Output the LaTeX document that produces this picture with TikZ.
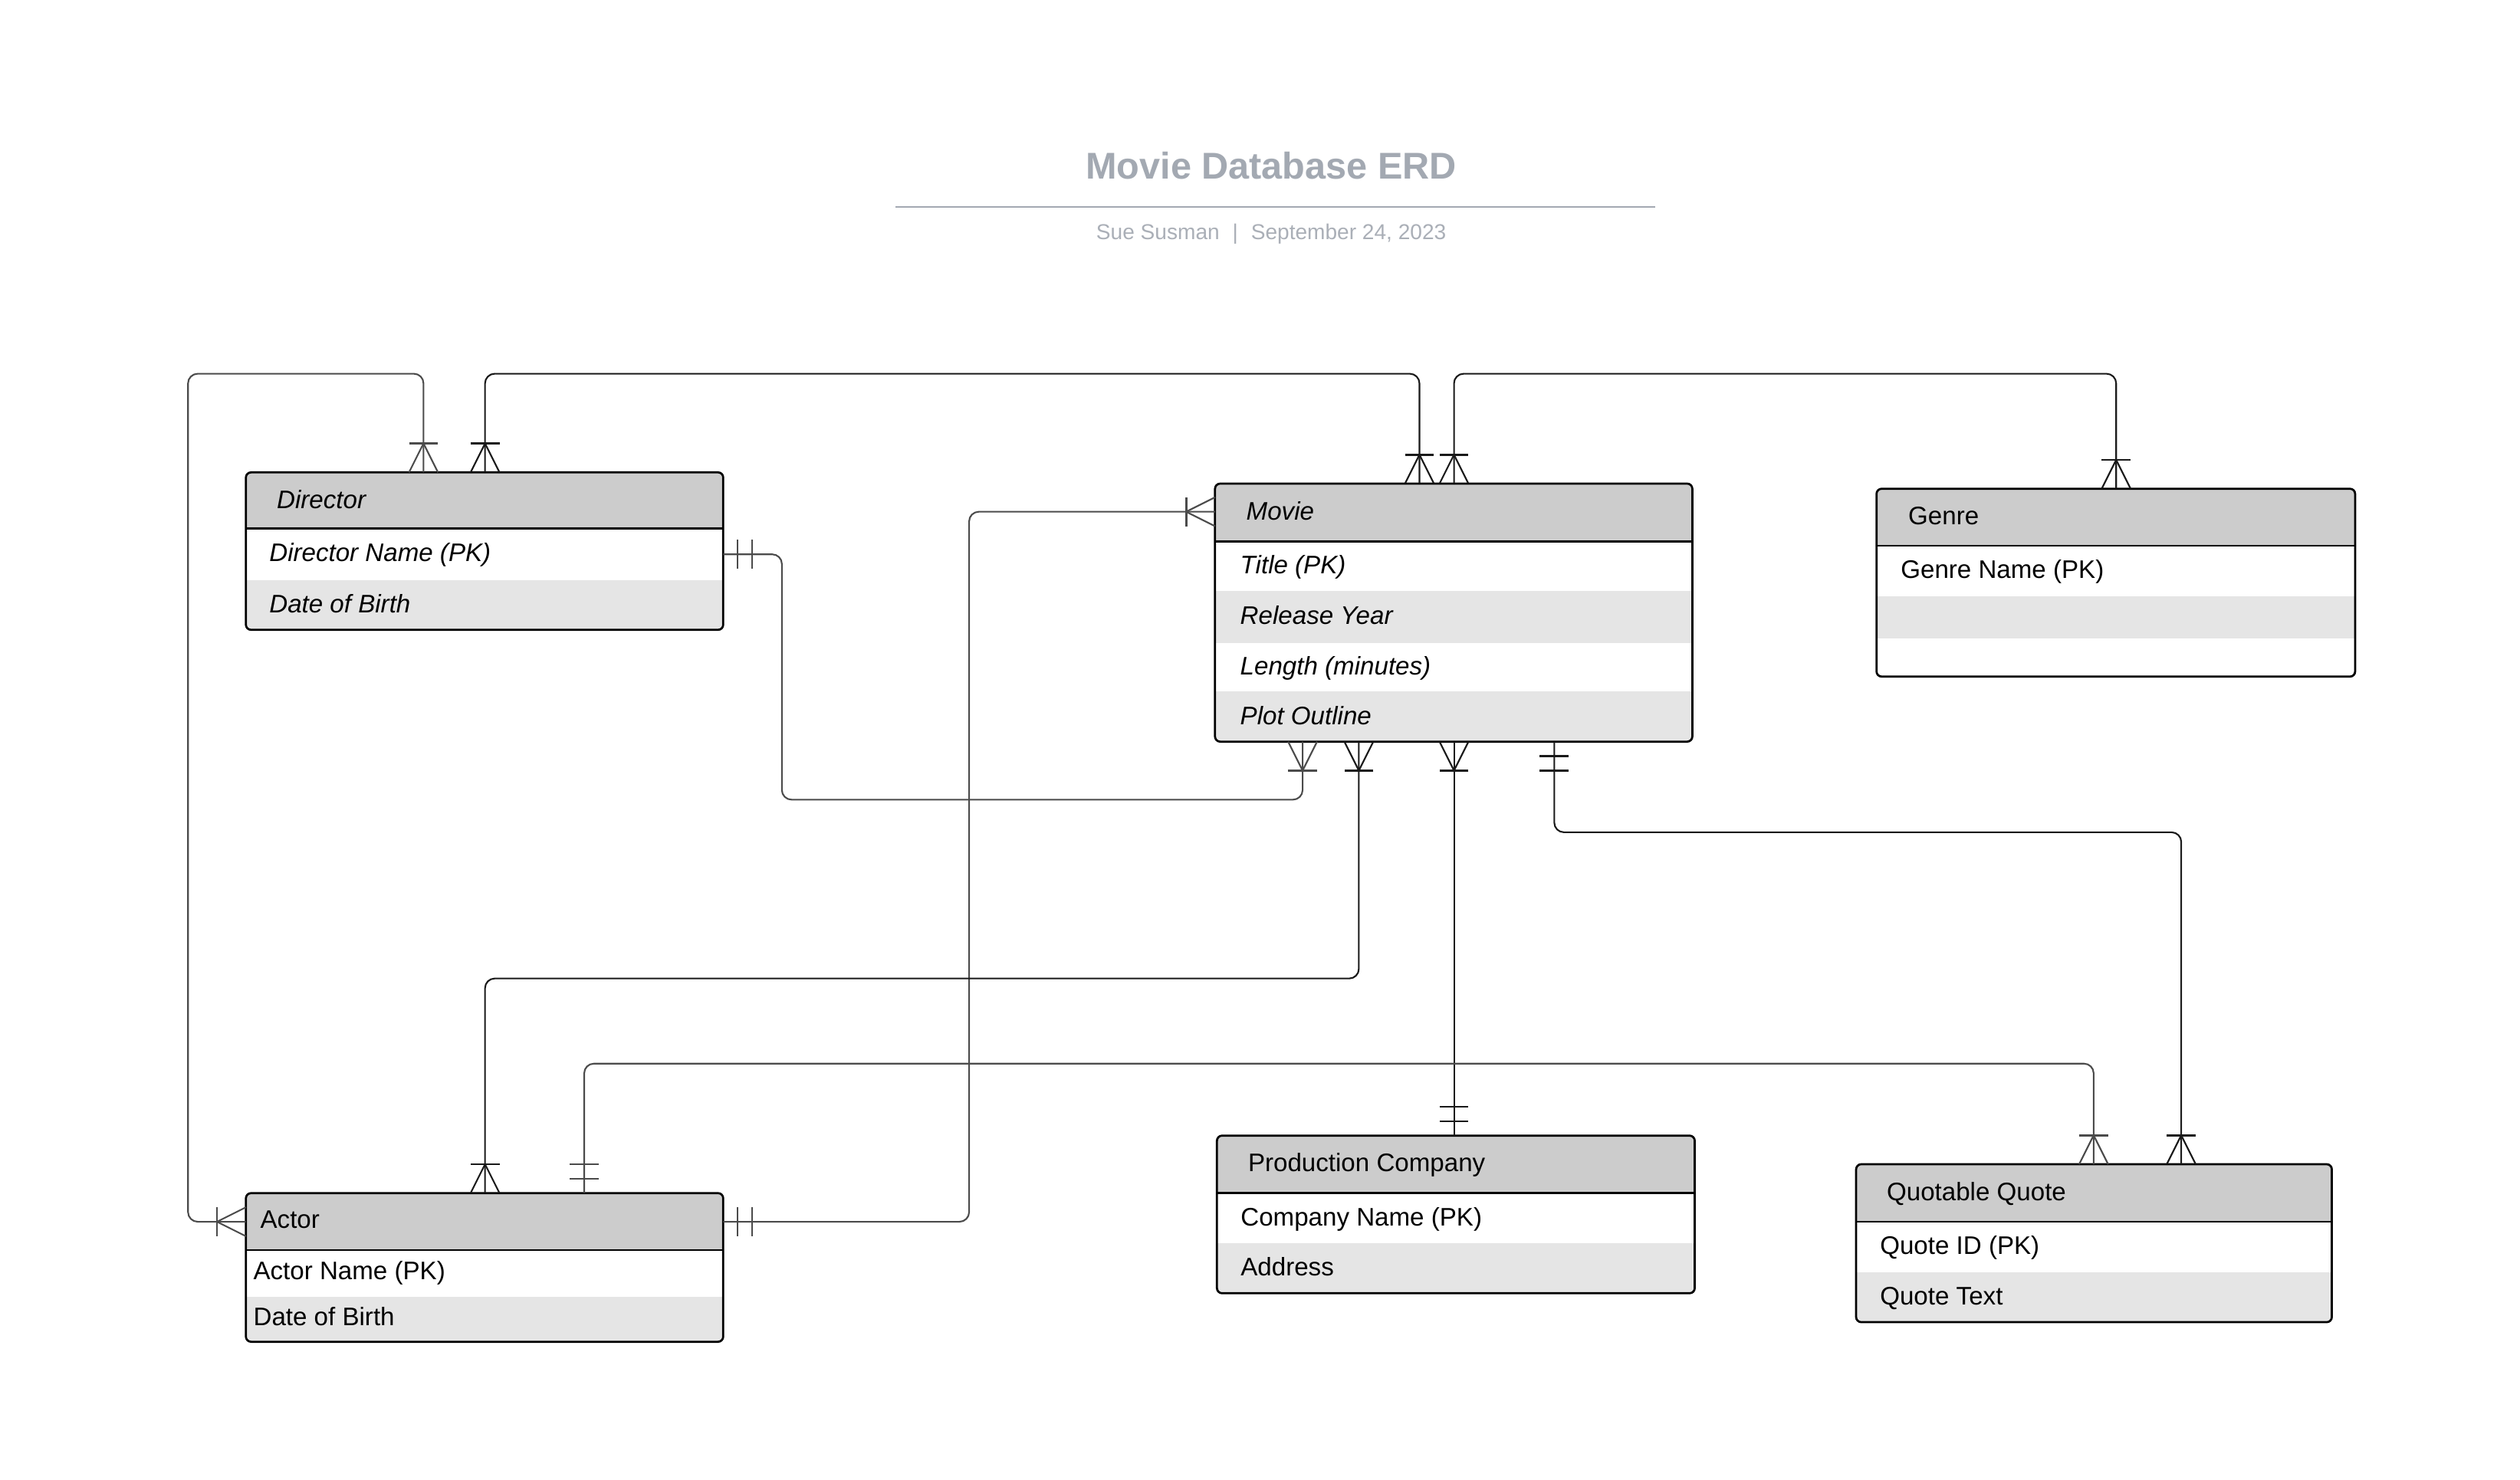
\documentclass[tikz,border=0pt]{standalone}
\usepackage{fontspec}
\setmainfont{Liberation Sans}
\usetikzlibrary{calc}
\definecolor{titlegray}{RGB}{163,169,178}
\definecolor{subgray}{RGB}{170,175,183}
\definecolor{hdrfill}{RGB}{204,204,204}
\definecolor{altfill}{RGB}{229,229,229}
\definecolor{linegray}{RGB}{75,75,75}
\definecolor{lineblack}{RGB}{25,25,25}
\newcommand\ft{\fontsize{7.9}{9.5}\selectfont}
% crow's foot (one or many): #1 colour, #2 coordinate, #3 outward angle
\newcommand\manyone[3][linegray]{%
  \begin{scope}[shift={(#2)},rotate=#3]
    \draw[#1,line width=0.5pt] (0,9)--(18,0) (0,-9)--(18,0);
    \draw[#1,line width=0.7pt] (18,-9)--(18,9);
  \end{scope}}
% one and only one
\newcommand\onlyone[3][linegray]{%
  \begin{scope}[shift={(#2)},rotate=#3]
    \draw[#1,line width=0.6pt] (9,-9)--(9,9) (18,-9)--(18,9);
  \end{scope}}
\begin{document}
\begin{tikzpicture}[x=0.5pt,y=-0.5pt,
  entbox/.style={draw=black,line width=0.65pt,rounded corners=1.6pt,inner sep=0pt,outer sep=0pt,anchor=north west},
  etext/.style={anchor=west,inner sep=0pt,outer sep=0pt,font=\ft,text height=5.65pt,text depth=0pt},
  itext/.style={etext,font=\ft\itshape},
  conn/.style={line width=0.5pt,rounded corners=3pt}]
\useasboundingbox (0,0) rectangle (1568,921);
\fill[white] (0,0) rectangle (1568,921);

% ---------- title ----------
\node[anchor=base,inner sep=0pt,font=\bfseries\fontsize{11.6}{14}\selectfont,text=titlegray] (title) at (791,111.5) {Movie Database ERD};
\coordinate (tl1) at (557.2,128.8);
\coordinate (tl2) at (1029.7,128.8);
\draw[titlegray,line width=0.65pt] (tl1) -- (tl2);
\node[anchor=base,inner sep=0pt,font=\fontsize{6.7}{8}\selectfont,text=subgray] (subtitle) at (791,149) {Sue Susman\hspace{0.6em}|\hspace{0.6em}September 24, 2023};

% ---------- fills ----------
\begin{scope}
  \clip[rounded corners=1.6pt] (153,294) rectangle (450,392);
  \fill[hdrfill] (153,294) rectangle (450,329);
  \fill[altfill] (153,361) rectangle (450,392);
\end{scope}
\begin{scope}
  \clip[rounded corners=1.6pt] (756,301) rectangle (1053,461.6);
  \fill[hdrfill] (756,301) rectangle (1053,337);
  \fill[altfill] (756,368) rectangle (1053,400);
  \fill[altfill] (756,430.5) rectangle (1053,461.6);
\end{scope}
\begin{scope}
  \clip[rounded corners=1.6pt] (1167.6,304.2) rectangle (1465.4,421.1);
  \fill[hdrfill] (1167.6,304.2) rectangle (1465.4,339.8);
  \fill[altfill] (1167.6,371.3) rectangle (1465.4,397.2);
\end{scope}
\begin{scope}
  \clip[rounded corners=1.6pt] (153,742.6) rectangle (450,835.1);
  \fill[hdrfill] (153,742.6) rectangle (450,778.2);
  \fill[altfill] (153,807) rectangle (450,835.1);
\end{scope}
\begin{scope}
  \clip[rounded corners=1.6pt] (757.2,706.8) rectangle (1054.5,804.9);
  \fill[hdrfill] (757.2,706.8) rectangle (1054.5,742.6);
  \fill[altfill] (757.2,773.9) rectangle (1054.5,804.9);
\end{scope}
\begin{scope}
  \clip[rounded corners=1.6pt] (1154.9,724.6) rectangle (1450.9,822.9);
  \fill[hdrfill] (1154.9,724.6) rectangle (1450.9,760.4);
  \fill[altfill] (1154.9,791.9) rectangle (1450.9,822.9);
\end{scope}

% ---------- entity boxes ----------
\node[entbox,minimum width=148.5pt,minimum height=49pt] (director) at (153,294) {};
\node[entbox,minimum width=148.5pt,minimum height=80.3pt] (movie) at (756,301) {};
\node[entbox,minimum width=148.9pt,minimum height=58.45pt] (genre) at (1167.6,304.2) {};
\node[entbox,minimum width=148.5pt,minimum height=46.25pt] (actor) at (153,742.6) {};
\node[entbox,minimum width=148.65pt,minimum height=49.05pt] (prodco) at (757.2,706.8) {};
\node[entbox,minimum width=148pt,minimum height=49.15pt] (quote) at (1154.9,724.6) {};

\draw[line width=0.65pt] (153,329) -- (450,329);
\draw[line width=0.65pt] (756,337) -- (1053,337);
\draw[line width=0.5pt] (1167.6,339.8) -- (1465.4,339.8);
\draw[line width=0.5pt] (153,778.2) -- (450,778.2);
\draw[line width=0.65pt] (757.2,742.6) -- (1054.5,742.6);
\draw[line width=0.65pt] (1154.9,760.4) -- (1450.9,760.4);

% ---------- texts ----------
\node[itext] (dir-h) at (172.3,311) {Director};
\node[itext] (dir-r1) at (167.6,344) {Director Name (PK)};
\node[itext] (dir-r2) at (167.6,375.5) {Date of Birth};

\node[itext] (mov-h) at (775.5,318) {Movie};
\node[itext] (mov-r1) at (771.7,351.5) {Title (PK)};
\node[itext] (mov-r2) at (771.7,383) {Release Year};
\node[itext] (mov-r3) at (771.7,414.3) {Length (minutes)};
\node[itext] (mov-r4) at (771.7,445.3) {Plot Outline};

\node[etext] (gen-h) at (1187.4,321) {Genre};
\node[etext] (gen-r1) at (1182.7,354.5) {Genre Name (PK)};

\node[etext] (act-h) at (162,758.8) {Actor};
\node[etext] (act-r1) at (157.7,790.6) {Actor Name (PK)};
\node[etext] (act-r2) at (157.7,819.3) {Date of Birth};

\node[etext] (pc-h) at (776.6,723.7) {Production Company};
\node[etext] (pc-r1) at (772,757.2) {Company Name (PK)};
\node[etext] (pc-r2) at (772,788.4) {Address};

\node[etext] (q-h) at (1174,741.5) {Quotable Quote};
\node[etext] (q-r1) at (1169.8,775.2) {Quote ID (PK)};
\node[etext] (q-r2) at (1169.8,806.4) {Quote Text};

% ---------- attachment points ----------
\coordinate (dirT1) at ($(director.north west)+(110.5,0)$);
\coordinate (dirT2) at ($(director.north west)+(148.8,0)$);
\coordinate (dirR)  at ($(director.north east)+(0,51)$);
\coordinate (movT1) at ($(movie.north west)+(127.2,0)$);
\coordinate (movT2) at ($(movie.north west)+(148.7,0)$);
\coordinate (movL)  at ($(movie.north west)+(0,17.5)$);
\coordinate (movB1) at ($(movie.south west)+(54.5,0)$);
\coordinate (movB2) at ($(movie.south west)+(89.5,0)$);
\coordinate (movB3) at ($(movie.south west)+(148.7,0)$);
\coordinate (movB4) at ($(movie.south west)+(211.1,0)$);
\coordinate (genT)  at ($(genre.north west)+(149.1,0)$);
\coordinate (actL)  at ($(actor.north west)+(0,17.8)$);
\coordinate (actR)  at ($(actor.north east)+(0,17.8)$);
\coordinate (actT1) at ($(actor.north west)+(148.8,0)$);
\coordinate (actT2) at ($(actor.north west)+(210.5,0)$);
\coordinate (pcT)   at ($(prodco.north west)+(147.5,0)$);
\coordinate (qT1)   at ($(quote.north west)+(147.8,0)$);
\coordinate (qT2)   at ($(quote.north west)+(202.3,0)$);

% routing channels
\coordinate (ytop) at (0,232.6);
\coordinate (xl) at (117,0);
\coordinate (c4) at (486.5,497.7);
\coordinate (c5) at (603,0);
\coordinate (c6) at (0,609);
\coordinate (c8) at (0,518);
\coordinate (c9) at (0,662);

% ---------- connectors ----------
\draw[conn,linegray] (dirT1) -- (dirT1 |- ytop) -- (xl |- ytop) -- (xl |- actL) -- (actL);
\manyone{dirT1}{90}
\manyone{actL}{180}

\draw[conn,lineblack] (dirT2) -- (dirT2 |- ytop) -- (movT1 |- ytop) -- (movT1);
\manyone[lineblack]{dirT2}{90}
\manyone[lineblack]{movT1}{90}

\draw[conn,lineblack] (movT2) -- (movT2 |- ytop) -- (genT |- ytop) -- (genT);
\manyone[lineblack]{movT2}{90}
\manyone[lineblack]{genT}{90}

\draw[conn,linegray] (dirR) -- (c4 |- dirR) -- (c4) -- (movB1 |- c4) -- (movB1);
\onlyone{dirR}{0}
\manyone{movB1}{-90}

\draw[conn,linegray] (movL) -- (c5 |- movL) -- (c5 |- actR) -- (actR);
\manyone{movL}{180}
\onlyone{actR}{0}

\draw[conn,lineblack] (movB2) -- (movB2 |- c6) -- (actT1 |- c6) -- (actT1);
\manyone[lineblack]{movB2}{-90}
\manyone[lineblack]{actT1}{90}

\draw[conn,lineblack] (movB3) -- (pcT);
\manyone[lineblack]{movB3}{-90}
\onlyone[lineblack]{pcT}{90}

\draw[conn,lineblack] (movB4) -- (movB4 |- c8) -- (qT2 |- c8) -- (qT2);
\onlyone[lineblack]{movB4}{-90}
\manyone[lineblack]{qT2}{90}

\draw[conn,linegray] (actT2) -- (actT2 |- c9) -- (qT1 |- c9) -- (qT1);
\onlyone{actT2}{90}
\manyone{qT1}{90}
\end{tikzpicture}
\end{document}
